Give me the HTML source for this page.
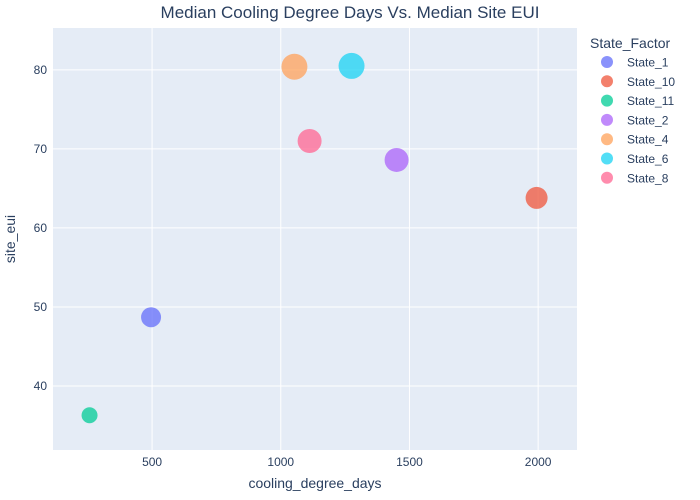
<!DOCTYPE html>
<html><head><meta charset="utf-8"><style>
body{margin:0;background:#fff;}
svg{display:block;font-family:"Liberation Sans",sans-serif;}
</style></head><body>
<svg id="chart" width="700" height="500">
<rect x="0" y="0" width="700" height="500" fill="#fff"/>
<rect x="53" y="28" width="524" height="422" fill="#e5ecf6"/>
<g id="grid"></g><g id="points"></g><g id="legend"></g>
<text x="350" y="18" text-anchor="middle" font-size="17" fill="#2a3f5f">Median Cooling Degree Days Vs. Median Site EUI</text>
<text x="315" y="488" text-anchor="middle" font-size="14" fill="#2a3f5f">cooling_degree_days</text>
<text transform="translate(15,239) rotate(-90)" text-anchor="middle" font-size="14" fill="#2a3f5f">site_eui</text>
</svg>
<script>
const categories=["State_1","State_10","State_11","State_2","State_4","State_6","State_8"];
const xValues=[496,1994,257,1450,1053,1275,1112];
const yValues=[48.7,63.8,36.3,68.6,80.4,80.5,71.0];
const sizes=[20,22,16,24,26,26,24];
const xTicks=[500,1000,1500,2000];
const yTicks=[40,50,60,70,80];
const colors=["#636efa","#EF553B","#00cc96","#ab63fa","#FFA15A","#19d3f3","#FF6692"];
const NS="http://www.w3.org/2000/svg";
const X0=53,X1=577,Y0=28,Y1=450,xMin=115,xMax=2151,yMin=31.9,yMax=85.3;
function sx(v){return X0+(v-xMin)/(xMax-xMin)*(X1-X0);}
function sy(v){return Y1-(v-yMin)/(yMax-yMin)*(Y1-Y0);}
function mk(t,a,p){const e=document.createElementNS(NS,t);for(const k in a)e.setAttribute(k,a[k]);p.appendChild(e);return e;}
const grid=document.getElementById('grid');
xTicks.forEach(v=>{
 const l=mk('line',{x1:sx(v),x2:sx(v),y1:Y0,y2:Y1,stroke:'#fff','stroke-width':1},grid);
 
 
 const t=mk('text',{x:sx(v),y:Y1+16,'text-anchor':'middle','font-size':12,fill:'#2a3f5f'},grid);
 t.textContent=v;
 
 
});
yTicks.forEach(v=>{
 const l=mk('line',{x1:X0,x2:X1,y1:sy(v),y2:sy(v),stroke:'#fff','stroke-width':1},grid);
 
 
 const t=mk('text',{x:X0-6,y:sy(v)+4,'text-anchor':'end','font-size':12,fill:'#2a3f5f'},grid);
 t.textContent=v;
 
 
});
const pts=document.getElementById('points');
categories.forEach((c,i)=>{
 const p=mk('circle',{cx:sx(xValues[i]),cy:sy(yValues[i]),r:sizes[i]/2,fill:colors[i],'fill-opacity':0.75},pts);
 
 
});
const lg=document.getElementById('legend');
const lt=mk('text',{x:590,y:48,'font-size':14,fill:'#2a3f5f'},lg);
lt.textContent='State_Factor';


categories.forEach((c,i)=>{
 const y=62+i*19.3;
 const g=mk('g',{},lg);
 
 
 mk('circle',{cx:607,cy:y,r:6,fill:colors[i],'fill-opacity':0.75},g);
 const t=mk('text',{x:627,y:y+4.5,'font-size':12,fill:'#2a3f5f'},g);
 t.textContent=c;
});
</script>
</body></html>
